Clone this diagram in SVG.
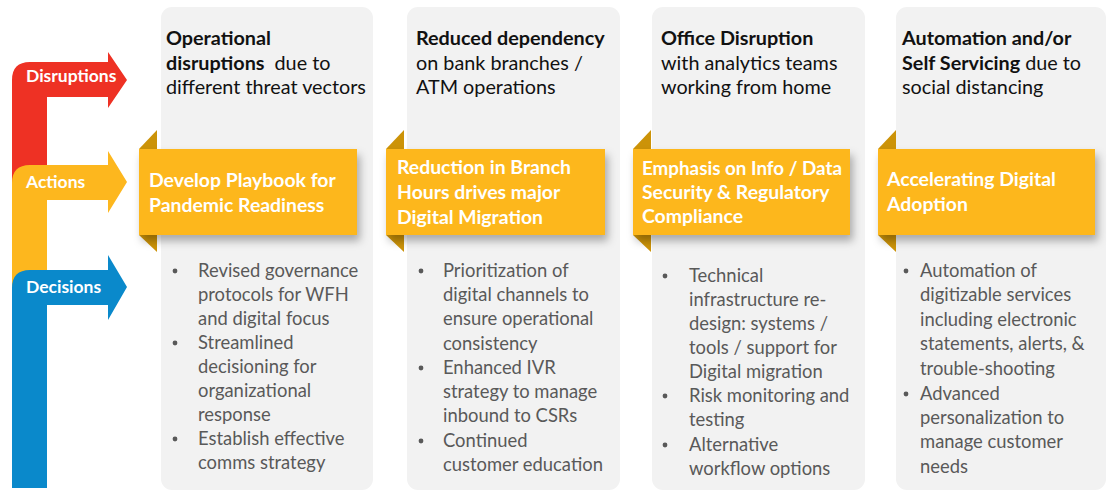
<svg xmlns="http://www.w3.org/2000/svg" width="1107" height="493" viewBox="0 0 1107 493">
  <style>
    .panel { fill: #F2F2F2; }
    .head { font-family: Lato, "Liberation Sans", sans-serif; font-size: 19.8px; fill: #111111; }
    .b { font-weight: bold; }
    .banner { fill: #FDB71E; }
    .fold { fill: #CC9308; }
    .btxt { font-family: Lato, "Liberation Sans", sans-serif; font-size: 19.4px; font-weight: bold; fill: #FFFFFF; }
    .list { font-family: Lato, "Liberation Sans", sans-serif; font-size: 18.4px; fill: #595959; }
    .dot { fill: #595959; }
    .lbl { font-family: Lato, "Liberation Sans", sans-serif; font-size: 17.5px; font-weight: bold; fill: #FFFFFF; }
  </style>
  <defs>
    <filter id="shadow" x="-10%" y="-20%" width="125%" height="160%">
      <feDropShadow dx="3" dy="6" stdDeviation="4" flood-color="#000000" flood-opacity="0.3"/>
    </filter>
  </defs>

  <!-- background columns -->
  <g id="columns">
    <rect class="panel" x="161" y="7" width="212" height="483" rx="11"/>
    <rect class="panel" x="407" y="7" width="213" height="483" rx="11"/>
    <rect class="panel" x="652" y="7" width="213" height="483" rx="11"/>
    <rect class="panel" x="896" y="7" width="210" height="483" rx="11"/>
  </g>

  <!-- left-hand stage arrows -->
  <g id="stage-arrows">
    <g id="disruptions">
      <path fill="#EE3124" d="M12,190 L12,80 Q12,62 30,62 L108,62 L108,52 L127,80 L108,108 L108,97 L47,97 L47,190 Z"/>
      <text class="lbl" x="26" y="82">Disruptions</text>
    </g>
    <g id="actions">
      <path fill="#FDB71E" d="M12,295 L12,183 Q12,165 30,165 L108,165 L108,151 L127,182 L108,213 L108,200 L47,200 L47,295 Z"/>
      <text class="lbl" x="26" y="188">Actions</text>
    </g>
    <g id="decisions">
      <path fill="#0A89CB" d="M12,488 L12,288 Q12,270 30,270 L108,270 L108,255 L127,287 L108,320 L108,305 L47,305 L47,488 Z"/>
      <text class="lbl" x="26" y="293">Decisions</text>
    </g>
  </g>

  <!-- column 1 -->
  <g id="col1">
    <text class="head" x="166" y="45"><tspan class="b">Operational</tspan></text>
    <text class="head" x="166" y="70"><tspan class="b">disruptions</tspan><tspan dx="10">due to</tspan></text>
    <text class="head" x="166" y="94">different threat vectors</text>
    <polygon class="fold" points="157,130 139,149 157,149"/>
    <polygon class="fold" points="139,235 157,235 157,252"/>
    <rect class="banner" x="139" y="149" width="218" height="86" filter="url(#shadow)"/>
    <text class="btxt" x="149" y="187">Develop Playbook for</text>
    <text class="btxt" x="149" y="212">Pandemic Readiness</text>
    <g class="list">
      <circle class="dot" cx="175" cy="271" r="2.4"/>
      <text x="198" y="277">Revised governance</text>
      <text x="198" y="301">protocols for WFH</text>
      <text x="198" y="325">and digital focus</text>
      <circle class="dot" cx="175" cy="343" r="2.4"/>
      <text x="198" y="349">Streamlined</text>
      <text x="198" y="373">decisioning for</text>
      <text x="198" y="397">organizational</text>
      <text x="198" y="421">response</text>
      <circle class="dot" cx="175" cy="439" r="2.4"/>
      <text x="198" y="445">Establish effective</text>
      <text x="198" y="469">comms strategy</text>
    </g>
  </g>

  <!-- column 2 -->
  <g id="col2">
    <text class="head" x="416" y="45"><tspan class="b">Reduced dependency</tspan></text>
    <text class="head" x="416" y="70">on bank branches /</text>
    <text class="head" x="416" y="94">ATM operations</text>
    <polygon class="fold" points="404,130 386,149 404,149"/>
    <polygon class="fold" points="386,235 404,235 404,252"/>
    <rect class="banner" x="386" y="149" width="219" height="86" filter="url(#shadow)"/>
    <text class="btxt" x="397" y="174">Reduction in Branch</text>
    <text class="btxt" x="397" y="199">Hours drives major</text>
    <text class="btxt" x="397" y="224">Digital Migration</text>
    <g class="list">
      <circle class="dot" cx="421" cy="271" r="2.4"/>
      <text x="443" y="277">Prioritization of</text>
      <text x="443" y="301">digital channels to</text>
      <text x="443" y="325">ensure operational</text>
      <text x="443" y="350">consistency</text>
      <circle class="dot" cx="421" cy="368" r="2.4"/>
      <text x="443" y="374">Enhanced IVR</text>
      <text x="443" y="398">strategy to manage</text>
      <text x="443" y="422">inbound to CSRs</text>
      <circle class="dot" cx="421" cy="441" r="2.4"/>
      <text x="443" y="447">Continued</text>
      <text x="443" y="471">customer education</text>
    </g>
  </g>

  <!-- column 3 -->
  <g id="col3">
    <text class="head" x="661" y="45"><tspan class="b">Office Disruption</tspan></text>
    <text class="head" x="661" y="70">with analytics teams</text>
    <text class="head" x="661" y="94">working from home</text>
    <polygon class="fold" points="651,130 633,149 651,149"/>
    <polygon class="fold" points="633,235 651,235 651,252"/>
    <rect class="banner" x="633" y="149" width="217" height="86" filter="url(#shadow)"/>
    <text class="btxt" x="642" y="175" textLength="200" lengthAdjust="spacingAndGlyphs">Emphasis on Info / Data</text>
    <text class="btxt" x="642" y="199">Security &amp; Regulatory</text>
    <text class="btxt" x="642" y="223">Compliance</text>
    <g class="list">
      <circle class="dot" cx="665" cy="276" r="2.4"/>
      <text x="689" y="282">Technical</text>
      <text x="689" y="306">infrastructure re-</text>
      <text x="689" y="330">design: systems /</text>
      <text x="689" y="354">tools / support for</text>
      <text x="689" y="378">Digital migration</text>
      <circle class="dot" cx="665" cy="396" r="2.4"/>
      <text x="689" y="402">Risk monitoring and</text>
      <text x="689" y="426">testing</text>
      <circle class="dot" cx="665" cy="445" r="2.4"/>
      <text x="689" y="451">Alternative</text>
      <text x="689" y="475">workflow options</text>
    </g>
  </g>

  <!-- column 4 -->
  <g id="col4">
    <text class="head" x="902" y="45"><tspan class="b">Automation and/or</tspan></text>
    <text class="head" x="902" y="70"><tspan class="b">Self Servicing</tspan><tspan dx="5">due to</tspan></text>
    <text class="head" x="902" y="94">social distancing</text>
    <polygon class="fold" points="896,130 878,149 896,149"/>
    <polygon class="fold" points="878,235 896,235 896,252"/>
    <rect class="banner" x="878" y="149" width="217" height="86" filter="url(#shadow)"/>
    <text class="btxt" x="887" y="186">Accelerating Digital</text>
    <text class="btxt" x="887" y="211">Adoption</text>
    <g class="list">
      <circle class="dot" cx="906" cy="271" r="2.4"/>
      <text x="920" y="277">Automation of</text>
      <text x="920" y="301">digitizable services</text>
      <text x="920" y="326">including electronic</text>
      <text x="920" y="350">statements, alerts, &amp;</text>
      <text x="920" y="375">trouble-shooting</text>
      <circle class="dot" cx="906" cy="394" r="2.4"/>
      <text x="920" y="400">Advanced</text>
      <text x="920" y="424">personalization to</text>
      <text x="920" y="448">manage customer</text>
      <text x="920" y="473">needs</text>
    </g>
  </g>
</svg>
